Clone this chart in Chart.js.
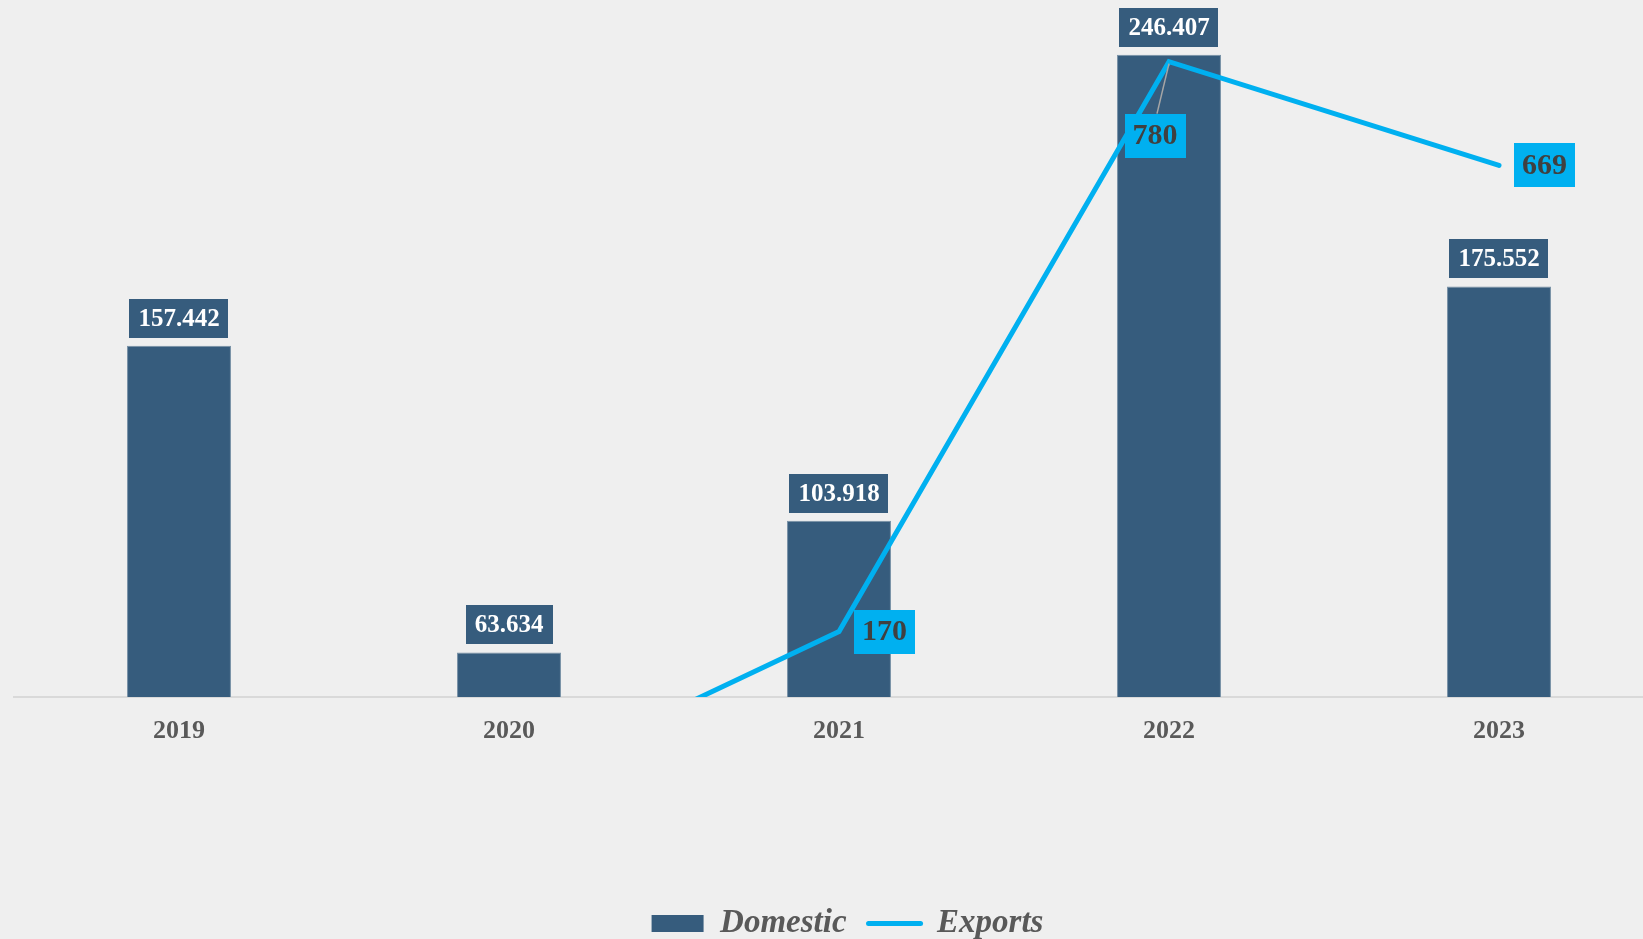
<!DOCTYPE html>
<html>
<head>
<meta charset="utf-8">
<script src="https://cdn.jsdelivr.net/npm/chart.js@4/dist/chart.umd.min.js"></script>
<style>
  html, body { margin: 0; padding: 0; background: #efefef; overflow: hidden; }
  canvas { display: block; }
</style>
</head>
<body>
<canvas id="c" width="1689" height="950" style="width:1689px;height:950px"></canvas>
<script>
// ---- data ----
const years = ['2019', '2020', '2021', '2022', '2023'];
const domestic = [157442, 63634, 103918, 246407, 175552];
const exportsVals = [0, 3, 170, 780, 669];
const seriesNames = ['Domestic', 'Exports'];
const exportLabelPlacement = ['right', 'right', 'right', 'below', 'right'];

// ---- styles ----
const BAR_COLOR = '#365c7d';
const LINE_COLOR = '#00b0f0';
const SERIF = '"Liberation Serif", "Times New Roman", serif';

function fmtThousands(v) {
  return String(v).replace(/\B(?=(\d{3})+(?!\d))/g, '.');
}

const labelPlugin = {
  id: 'valueLabels',
  afterDatasetsDraw(chart) {
    const ctx = chart.ctx;
    const area = chart.chartArea;
    ctx.save();
    // Domestic labels
    const m0 = chart.getDatasetMeta(0);
    ctx.font = 'bold 25px ' + SERIF;
    ctx.textAlign = 'center';
    ctx.textBaseline = 'middle';
    m0.data.forEach((bar, i) => {
      const txt = fmtThousands(domestic[i]);
      const w = ctx.measureText(txt).width + 18;
      const h = 39;
      const cx = bar.x;
      const bottom = bar.y - 8;
      ctx.fillStyle = BAR_COLOR;
      ctx.fillRect(Math.round(cx - w / 2), Math.round(bottom - h), Math.round(w), h);
      ctx.fillStyle = '#ffffff';
      ctx.fillText(txt, cx, bottom - h / 2 + 1);
    });
    // Exports labels
    const m1 = chart.getDatasetMeta(1);
    ctx.font = 'bold 30px ' + SERIF;
    m1.data.forEach((pt, i) => {
      if (pt.y > area.bottom || pt.y < area.top) return;
      const txt = String(exportsVals[i]);
      const w = ctx.measureText(txt).width + 16;
      const h = 44;
      let bx, by;
      if (exportLabelPlacement[i] === 'below') {
        const cx = pt.x - 14;
        by = pt.y + 52;
        bx = cx - w / 2;
        ctx.strokeStyle = '#a6a6a6';
        ctx.lineWidth = 1.5;
        ctx.beginPath();
        ctx.moveTo(pt.x, pt.y + 2);
        ctx.lineTo(cx + 2, by);
        ctx.stroke();
      } else {
        bx = pt.x + 15;
        by = pt.y - h / 2;
      }
      ctx.fillStyle = LINE_COLOR;
      ctx.fillRect(Math.round(bx), Math.round(by), Math.round(w), h);
      ctx.fillStyle = '#404040';
      ctx.fillText(txt, bx + w / 2, by + h / 2 + 1);
    });
    ctx.restore();
  }
};

new Chart(document.getElementById('c'), {
  data: {
    labels: years,
    datasets: [
      {
        type: 'bar',
        label: seriesNames[0],
        data: domestic,
        yAxisID: 'y',
        backgroundColor: BAR_COLOR,
        borderColor: '#7891a6',
        borderWidth: 1,
        barPercentage: 1,
        categoryPercentage: 0.315,
        order: 2
      },
      {
        type: 'line',
        label: seriesNames[1],
        data: exportsVals,
        yAxisID: 'y2',
        borderColor: LINE_COLOR,
        backgroundColor: LINE_COLOR,
        borderWidth: 5,
        borderCapStyle: 'round',
        borderJoinStyle: 'miter',
        pointRadius: 0,
        pointHoverRadius: 0,
        tension: 0,
        clip: 0,
        order: 1
      }
    ]
  },
  options: {
    responsive: false,
    animation: false,
    devicePixelRatio: 1,
    layout: { padding: { left: 14, right: 8, top: 43, bottom: 0 } },
    scales: {
      x: {
        grid: { display: false, drawTicks: false },
        border: { display: true, color: '#d9d9d9', width: 2 },
        ticks: {
          padding: 19,
          color: '#595959',
          font: { family: SERIF, size: 26, weight: 'bold' }
        },
        afterFit(scale) { scale.height = 188; }
      },
      y: {
        display: false,
        min: 50000,
        max: 250000
      },
      y2: {
        display: true,
        position: 'right',
        min: 100,
        max: 800,
        grid: { display: false, drawTicks: false },
        border: { display: false },
        ticks: { display: false },
        afterFit(scale) { scale.width = 17; }
      }
    },
    plugins: {
      tooltip: { enabled: false },
      legend: {
        position: 'bottom',
        labels: {
          usePointStyle: true,
          pointStyleWidth: 52,
          boxHeight: 17,
          padding: 22,
          color: '#595959',
          font: { family: SERIF, size: 33, style: 'italic', weight: 'bold' },
          generateLabels() {
            return [
              { text: seriesNames[0], fillStyle: BAR_COLOR, strokeStyle: BAR_COLOR, lineWidth: 0, pointStyle: 'rect', datasetIndex: 0, fontColor: '#595959' },
              { text: seriesNames[1], fillStyle: 'rgba(0,0,0,0)', strokeStyle: LINE_COLOR, lineWidth: 5, lineCap: 'round', pointStyle: 'line', datasetIndex: 1, fontColor: '#595959' }
            ];
          }
        }
      }
    }
  },
  plugins: [labelPlugin]
});
</script>
</body>
</html>
